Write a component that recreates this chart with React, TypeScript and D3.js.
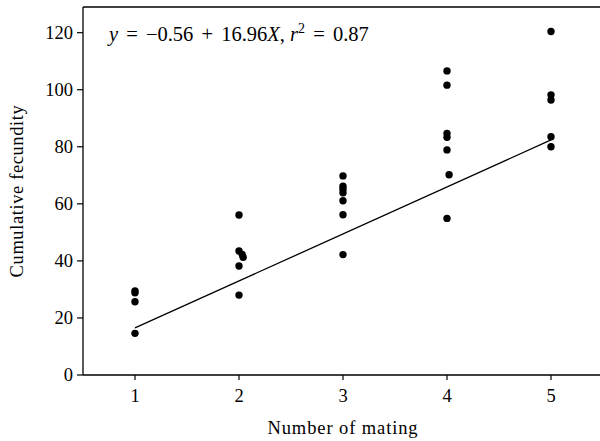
import React from 'react';
import * as d3 from 'd3';

// values
const matingX = [
  1, 1, 1, 1,
  2, 2, 2.03, 2.04, 2, 2,
  3, 3, 3, 3, 3, 3, 3,
  4, 4, 4, 4, 4, 4.02, 4,
  5, 5, 5, 5, 5,
];
const fecundityY = [
  29.5, 28.8, 25.7, 14.6,
  56.1, 43.5, 42.3, 41.3, 38.2, 28.0,
  69.8, 66.2, 65.1, 63.9, 61.1, 56.2, 42.2,
  106.6, 101.6, 84.7, 83.3, 78.9, 70.2, 54.9,
  120.4, 98.2, 96.4, 83.5, 80.0,
];
const fitX = [1, 5];
const fitY = [16.5, 82.4];
const xTicks = [1, 2, 3, 4, 5];
const yTicks = [0, 20, 40, 60, 80, 100, 120];

const W = 600;
const H = 441;
const FONT = '"Liberation Serif", "Times New Roman", serif';

export default function App() {
  const x = d3.scaleLinear().domain([0.5, 5.5]).range([83, 603]);
  const y = d3.scaleLinear().domain([0, 129]).range([375, 7]);

  const line = d3
    .line<number>()
    .x((d) => x(d))
    .y((_, i) => y(fitY[i]));

  return (
    <svg
      width={W}
      height={H}
      style={{ position: 'absolute', left: 0, top: 0, background: '#fff' }}
      fontFamily={FONT}
    >
      {/* frame: top border, left and bottom axes */}
      <line x1={x(0.5)} x2={x(5.5)} y1={y(129)} y2={y(129)} stroke="#000" strokeWidth={1.3} />
      <line x1={x(0.5)} x2={x(0.5)} y1={y(0)} y2={y(129)} stroke="#000" strokeWidth={1.3} />
      <line x1={x(0.5)} x2={x(5.5)} y1={y(0)} y2={y(0)} stroke="#000" strokeWidth={1.3} />

      {yTicks.map((t) => (
        <g key={'y' + t}>
          <line x1={x(0.5) - 6} x2={x(0.5)} y1={y(t)} y2={y(t)} stroke="#000" strokeWidth={1.2} />
          <text x={x(0.5) - 10} y={y(t)} dy="0.35em" textAnchor="end" fontSize={18.5}>
            {t}
          </text>
        </g>
      ))}

      {xTicks.map((t) => (
        <g key={'x' + t}>
          <line x1={x(t)} x2={x(t)} y1={y(0)} y2={y(0) + 5} stroke="#000" strokeWidth={1.2} />
          <text x={x(t)} y={402} textAnchor="middle" fontSize={18.5}>
            {t}
          </text>
        </g>
      ))}

      <text
        x={(x(0.5) + x(5.5)) / 2}
        y={434}
        textAnchor="middle"
        fontSize={18.5}
        letterSpacing={0.9}
      >
        Number of mating
      </text>
      <text
        transform={`translate(23, ${(y(0) + y(129)) / 2}) rotate(-90)`}
        textAnchor="middle"
        fontSize={18.5}
        letterSpacing={0.6}
      >
        Cumulative fecundity
      </text>

      <path d={line(fitX) || ''} fill="none" stroke="#000" strokeWidth={1.3} />

      {fecundityY.map((v, i) => (
        <circle key={i} cx={x(matingX[i])} cy={y(v)} r={3.7} fill="#000" />
      ))}

      <text x={109} y={41} fontSize={20.5} xmlSpace="preserve">
        <tspan fontStyle="italic">y</tspan>
        <tspan dx={3}>{' = '}</tspan>
        <tspan dx={3}>{'\u22120.56'}</tspan>
        <tspan dx={3}>{' + '}</tspan>
        <tspan dx={3}>{'16.96'}</tspan>
        <tspan fontStyle="italic">X</tspan>
        {', '}
        <tspan fontStyle="italic">r</tspan>
        <tspan fontSize={14} dy={-8}>2</tspan>
        <tspan dy={8} dx={3}>{' = '}</tspan>
        <tspan dx={3}>{'0.87'}</tspan>
      </text>
    </svg>
  );
}
